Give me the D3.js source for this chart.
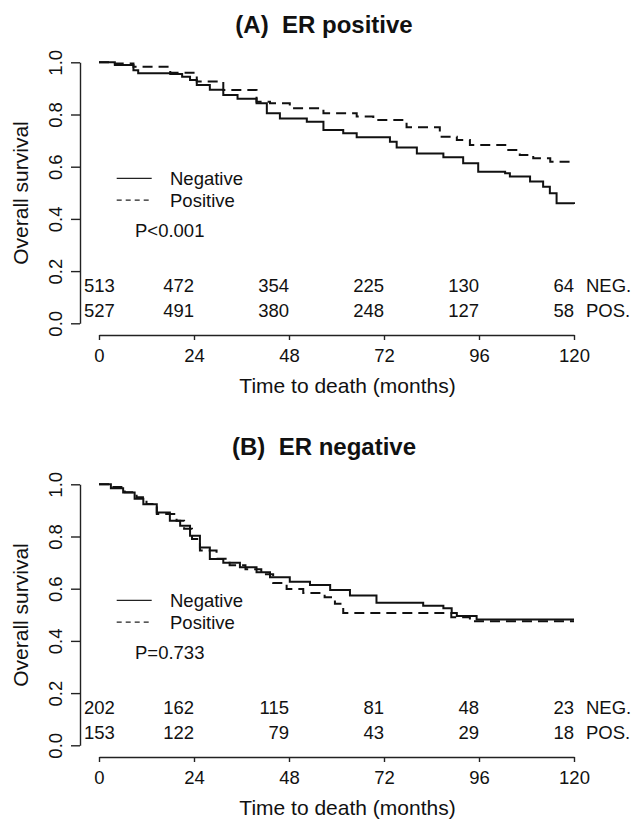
<!DOCTYPE html>
<html>
<head>
<meta charset="utf-8">
<script src="https://cdn.jsdelivr.net/npm/d3@7"></script>
<style>
  body { margin: 0; background: #fff; }
  svg text { font-family: "Liberation Sans", Arial, sans-serif; fill: #111; }
</style>
</head>
<body>
<script>
// months where the risk table is read, and the axis ticks
var monthTicks = [0, 24, 48, 72, 96, 120];
var survTicks = [0, 0.2, 0.4, 0.6, 0.8, 1.0];
var riskAt = [4, 24, 48, 72, 96, 120];

// (A) ER positive - Kaplan-Meier steps
var aNegTime = [0, 4, 8.7, 9.9, 18, 21, 23, 24.7, 28, 31.4, 35, 39.8, 42.4, 45.7, 52.5, 56.7, 61.7, 65.1, 73.5, 75.2, 80.3, 87, 92, 95.8, 102.6, 103.8, 108.9, 112.2, 113.9, 115.6, 120];
var aNegSurv = [1.0, 0.99, 0.97, 0.958, 0.955, 0.945, 0.932, 0.913, 0.895, 0.875, 0.86, 0.843, 0.805, 0.785, 0.772, 0.741, 0.728, 0.713, 0.696, 0.674, 0.651, 0.636, 0.613, 0.581, 0.575, 0.562, 0.543, 0.523, 0.498, 0.46, 0.457];
var aPosTime = [0, 4, 8.7, 18, 24.7, 31.4, 39.8, 43.2, 48.2, 56.7, 65.1, 69.3, 77.7, 86.1, 90.4, 93.7, 103, 106.3, 109.7, 114, 120];
var aPosSurv = [1.0, 0.995, 0.983, 0.96, 0.926, 0.894, 0.849, 0.843, 0.824, 0.805, 0.792, 0.779, 0.751, 0.715, 0.702, 0.683, 0.664, 0.645, 0.632, 0.619, 0.619];
var aRiskNeg = [513, 472, 354, 225, 130, 64];
var aRiskPos = [527, 491, 380, 248, 127, 58];

// (B) ER negative
var bNegTime = [0, 3, 6.1, 9, 11.2, 14.6, 17.9, 20.5, 23, 25.5, 28, 31.4, 35.6, 39.8, 43.2, 48.2, 53.3, 58.4, 63.4, 70.1, 81.9, 87, 89.1, 90.4, 95.4, 120];
var bNegSurv = [1.0, 0.985, 0.969, 0.945, 0.924, 0.892, 0.86, 0.841, 0.803, 0.758, 0.714, 0.699, 0.682, 0.663, 0.644, 0.627, 0.614, 0.595, 0.574, 0.546, 0.535, 0.525, 0.507, 0.495, 0.482, 0.482];
var bPosTime = [0, 3, 6.5, 9.5, 12, 14.6, 19.6, 21.5, 23.5, 25.5, 29.7, 33, 37, 41, 44, 47.4, 51.6, 57, 59.6, 61.7, 89, 93.7, 120];
var bPosSurv = [1.0, 0.99, 0.97, 0.95, 0.925, 0.886, 0.86, 0.83, 0.79, 0.746, 0.715, 0.69, 0.675, 0.655, 0.622, 0.599, 0.584, 0.567, 0.542, 0.507, 0.491, 0.475, 0.475];
var bRiskNeg = [202, 162, 115, 81, 48, 23];
var bRiskPos = [153, 122, 79, 43, 29, 18];

var svg = d3.select("body").append("svg")
  .attr("width", 634)
  .attr("height", 820);

var x = d3.scaleLinear().domain([0, 120]).range([99, 574]);

function zip(t, s) {
  return t.map(function(d, i) { return { t: d, s: s[i] }; });
}

function panel(dy, title, neg, pos, riskNeg, riskPos, pText) {
  var g = svg.append("g").attr("transform", "translate(0," + dy + ")");
  var y = d3.scaleLinear().domain([0, 1]).range([323.3, 62.3]);

  g.append("text")
    .attr("x", 324).attr("y", 33.3)
    .attr("text-anchor", "middle")
    .style("font-weight", "bold").style("font-size", "24px")
    .style("white-space", "pre")
    .text(title);

  // y axis, R style with rotated labels
  var ay = g.append("g").attr("transform", "translate(80,0)")
    .call(d3.axisLeft(y).tickValues(survTicks).tickFormat(d3.format(".1f")).tickSize(9).tickSizeOuter(0));
  ay.selectAll("text")
    .attr("transform", "rotate(-90)")
    .attr("x", 0).attr("y", -18.3).attr("dy", 0)
    .attr("text-anchor", "middle")
    .style("font-size", "18.5px");

  var ax = g.append("g").attr("transform", "translate(0,335)")
    .call(d3.axisBottom(x).tickValues(monthTicks).tickSize(5).tickSizeOuter(0));
  ax.selectAll("text")
    .attr("y", 26.7).attr("dy", 0)
    .style("font-size", "18.5px");

  g.selectAll(".domain, .tick line").attr("stroke", "#222").attr("stroke-width", 1.4);
  g.selectAll(".tick text").attr("fill", "#111").style("font-family", "Liberation Sans, Arial, sans-serif");

  g.append("text")
    .attr("transform", "translate(28.3,193) rotate(-90)")
    .attr("text-anchor", "middle")
    .style("font-size", "21px")
    .text("Overall survival");

  g.append("text")
    .attr("x", 347.5).attr("y", 393.3)
    .attr("text-anchor", "middle")
    .style("font-size", "21px")
    .text("Time to death (months)");

  var line = d3.line()
    .curve(d3.curveStepAfter)
    .x(function(d) { return x(d.t); })
    .y(function(d) { return y(d.s); });

  g.append("path").datum(neg)
    .attr("d", line).attr("fill", "none")
    .attr("stroke", "#111").attr("stroke-width", 2);
  g.append("path").datum(pos)
    .attr("d", line).attr("fill", "none")
    .attr("stroke", "#111").attr("stroke-width", 2)
    .attr("stroke-dasharray", "10,6");

  // legend
  var leg = [{ k: "Negative", dash: null, yy: 178.4, ty: 185 }, { k: "Positive", dash: "5,4", yy: 200.1, ty: 206.7 }];
  leg.forEach(function(l) {
    g.append("line")
      .attr("x1", 116.7).attr("x2", 151.7)
      .attr("y1", l.yy).attr("y2", l.yy)
      .attr("stroke", "#222").attr("stroke-width", 1.3)
      .attr("stroke-dasharray", l.dash);
    g.append("text").attr("x", 170).attr("y", l.ty)
      .style("font-size", "18.5px").text(l.k);
  });
  g.append("text").attr("x", 135).attr("y", 237.3)
    .style("font-size", "18.5px").text(pText);

  // numbers at risk
  [[riskNeg, 292.3, "NEG."], [riskPos, 317.3, "POS."]].forEach(function(r) {
    g.selectAll(null).data(r[0]).enter().append("text")
      .attr("x", function(d, i) { return x(riskAt[i]); })
      .attr("y", r[1])
      .attr("text-anchor", "end")
      .style("font-size", "18.5px")
      .text(function(d) { return d; });
    g.append("text")
      .attr("x", x(120) + 12).attr("y", r[1])
      .style("font-size", "18.5px")
      .text(r[2]);
  });
}

panel(0, "(A)  ER positive", zip(aNegTime, aNegSurv), zip(aPosTime, aPosSurv), aRiskNeg, aRiskPos, "P<0.001");
panel(422, "(B)  ER negative", zip(bNegTime, bNegSurv), zip(bPosTime, bPosSurv), bRiskNeg, bRiskPos, "P=0.733");
</script>
</body>
</html>
